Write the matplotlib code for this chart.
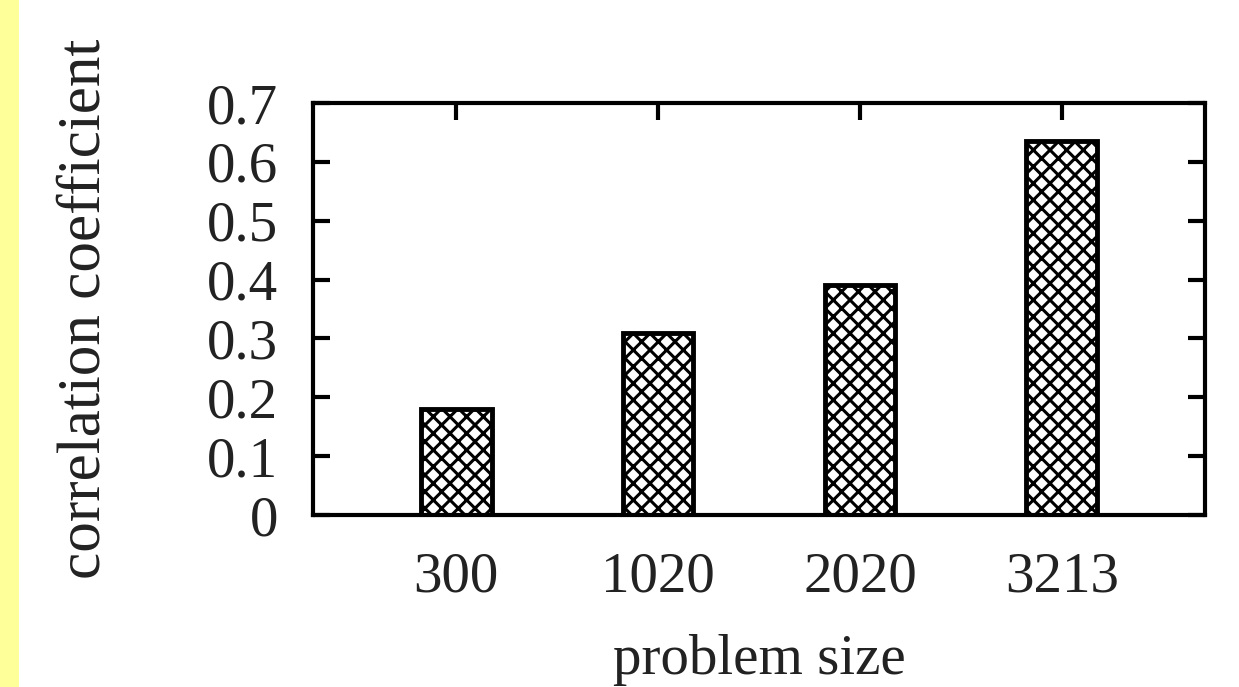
import numpy as np
import matplotlib.pyplot as plt
from matplotlib.patches import Rectangle

plt.rcParams['font.family'] = ['Liberation Serif', 'DejaVu Serif']
plt.rcParams['hatch.linewidth'] = 2.2
plt.rcParams['hatch.color'] = '#2a2a2a'

sizes = ['300', '1020', '2020', '3213']
corr = [0.18, 0.31, 0.39, 0.635]

fig = plt.figure(figsize=(12.39, 6.87), dpi=100)
# yellow stripe on the left edge
fig.patches.append(Rectangle((0, 0), 19 / 1239, 1, transform=fig.transFigure,
                             facecolor='#ffff99', edgecolor='none'))

ax = fig.add_axes([313 / 1239, 1 - 515 / 687, 892 / 1239, 412 / 687])
ax.set_axisbelow(True)
x = np.arange(len(sizes))
ax.bar(x, corr, width=0.35, color='white', edgecolor='black',
       linewidth=3.5, hatch='xx')

ax.set_xlim(-0.71, 3.71)
ax.set_ylim(0, 0.7)
ax.set_yticks(np.arange(0, 0.71, 0.1))
ax.set_yticklabels(['0', '0.1', '0.2', '0.3', '0.4', '0.5', '0.6', '0.7'])
ax.set_xticks(x)
ax.set_xticklabels(sizes)

for s in ax.spines.values():
    s.set_linewidth(3)
ax.tick_params(direction='in', length=12, width=3, top=True, right=True,
               labelsize=41, colors='black', labelcolor='#222222')
ax.tick_params(axis='y', pad=25)
ax.tick_params(axis='x', pad=26)

ax.set_xlabel('problem size', fontsize=41, color='#222222', labelpad=22)
ax.set_ylabel('correlation coefficient', fontsize=44, color='#222222', labelpad=68)

fig.savefig('out.png', dpi=100)
